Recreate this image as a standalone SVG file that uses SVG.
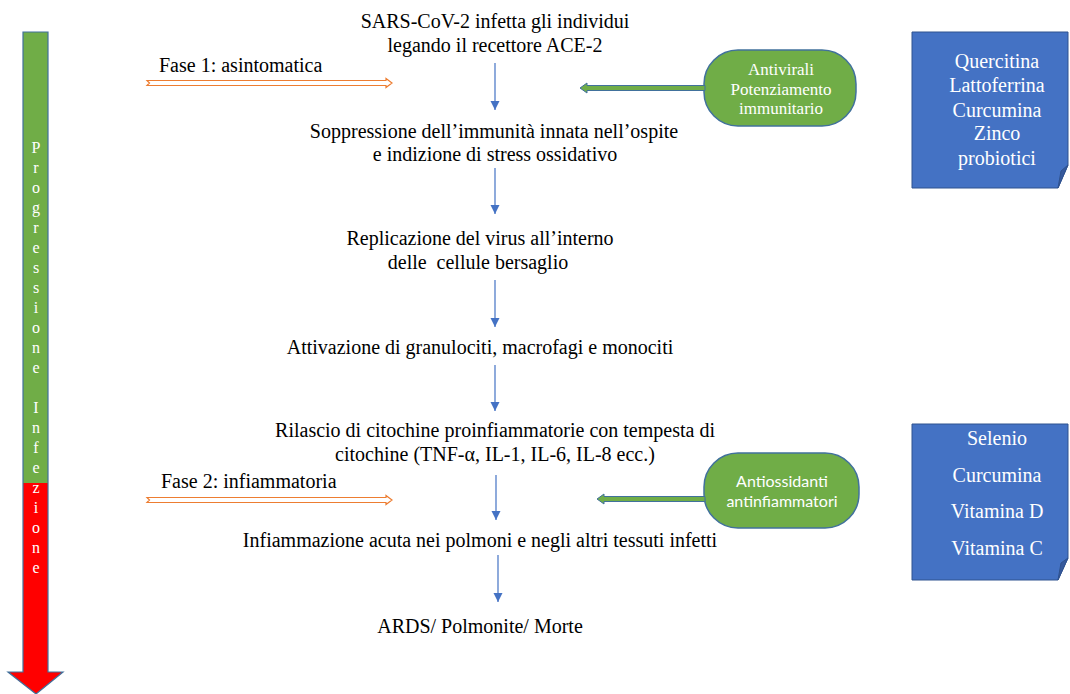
<svg xmlns="http://www.w3.org/2000/svg" width="1070" height="694" viewBox="0 0 1070 694">
<style>
.t{font-family:"Liberation Serif","Times New Roman",serif;font-size:20px;fill:#000;text-anchor:middle}
.tl{font-family:"Liberation Serif","Times New Roman",serif;font-size:20px;fill:#000}
.w{font-family:"Liberation Serif","Times New Roman",serif;font-size:17px;fill:#fff;text-anchor:middle}
.wb{font-family:"Liberation Serif","Times New Roman",serif;font-size:20px;fill:#fff;text-anchor:middle}
.ws{font-family:Lato,"Open Sans",sans-serif;font-size:16px;fill:#fff;text-anchor:middle}
.pl{font-family:"Liberation Serif","Times New Roman",serif;font-size:16px;fill:#fff;text-anchor:middle}
.blue{stroke:#4472C4;stroke-width:1.2;fill:none}
.orange{stroke:#ED7D31;stroke-width:1.2;fill:#fff}
.garrow{fill:#70AD47;stroke:#41719C;stroke-width:1}
.oval{fill:#70AD47;stroke:#41719C;stroke-width:1.5}
.box{fill:#4472C4;stroke:#2F528F;stroke-width:1}
.fold{fill:#36599C;stroke:#2F528F;stroke-width:1}
</style>
<defs>
<marker id="ah" markerWidth="10" markerHeight="10" refX="9" refY="5" orient="auto" markerUnits="userSpaceOnUse">
<path d="M0,0.5 L9,5 L0,9.5 Z" fill="#4472C4"/>
</marker>
<linearGradient id="prog" x1="0" y1="32" x2="0" y2="694" gradientUnits="userSpaceOnUse">
<stop offset="0.6813" stop-color="#70AD47"/>
<stop offset="0.6813" stop-color="#FF0000"/>
</linearGradient>
</defs>

<g id="progression">
<path d="M23,32 H48 V672 H63 L36,694 L8,672 H23 Z" fill="url(#prog)" stroke="#41719C" stroke-width="1.2"/>
<text class="pl" x="36" y="153">P</text>
<text class="pl" x="36" y="173">r</text>
<text class="pl" x="36" y="193">o</text>
<text class="pl" x="36" y="213">g</text>
<text class="pl" x="36" y="233">r</text>
<text class="pl" x="36" y="253">e</text>
<text class="pl" x="36" y="273">s</text>
<text class="pl" x="36" y="293">s</text>
<text class="pl" x="36" y="313">i</text>
<text class="pl" x="36" y="333">o</text>
<text class="pl" x="36" y="353">n</text>
<text class="pl" x="36" y="373">e</text>
<text class="pl" x="36" y="413">I</text>
<text class="pl" x="36" y="433">n</text>
<text class="pl" x="36" y="453">f</text>
<text class="pl" x="36" y="473">e</text>
<text class="pl" x="36" y="493">z</text>
<text class="pl" x="36" y="513">i</text>
<text class="pl" x="36" y="533">o</text>
<text class="pl" x="36" y="553">n</text>
<text class="pl" x="36" y="573">e</text>
</g>

<g id="n1"><text class="t" x="495" y="28">SARS-CoV-2 infetta gli individui</text><text class="t" x="495" y="52">legando il recettore ACE-2</text></g>
<g id="n2"><text class="t" x="494" y="138">Soppressione dell’immunità innata nell’ospite</text><text class="t" x="495" y="161">e indizione di stress ossidativo</text></g>
<g id="n3"><text class="t" x="480" y="245">Replicazione del virus all’interno</text><text class="t" x="478" y="269" xml:space="preserve">delle  cellule bersaglio</text></g>
<g id="n4"><text class="t" x="480" y="354">Attivazione di granulociti, macrofagi e monociti</text></g>
<g id="n5"><text class="t" x="495" y="437">Rilascio di citochine proinfiammatorie con tempesta di</text><text class="t" x="495" y="461">citochine (TNF-α, IL-1, IL-6, IL-8 ecc.)</text></g>
<g id="n6"><text class="t" x="480" y="547">Infiammazione acuta nei polmoni e negli altri tessuti infetti</text></g>
<g id="n7"><text class="t" x="480" y="633">ARDS/ Polmonite/ Morte</text></g>

<g id="fase1"><text class="tl" x="159" y="72">Fase 1: asintomatica</text>
<path class="orange" d="M147,80.5 H386 V78.5 L392,83 L386,87.5 V85.5 H147 L149.5,83 Z"/></g>
<g id="fase2"><text class="tl" x="161" y="488">Fase 2: infiammatoria</text>
<path class="orange" d="M147,497.5 H386 V495.5 L392,500 L386,504.5 V502.5 H147 L149.5,500 Z"/></g>

<g id="oval1"><rect class="oval" x="704" y="50" width="152" height="76" rx="34" ry="34"/>
<text class="w" x="781" y="75">Antivirali</text><text class="w" x="781" y="95">Potenziamento</text><text class="w" x="781" y="114">immunitario</text></g>
<g id="oval2"><rect class="oval" x="704" y="453" width="155" height="75" rx="34" ry="34"/>
<text class="ws" x="782" y="487">Antiossidanti</text><text class="ws" x="782" y="507">antinfiammatori</text></g>

<g id="box1"><path class="box" d="M912,32 H1068 V165 L1058,188 H912 Z"/><path class="fold" d="M1058,188 L1061,171 L1068,165 Z"/>
<text class="wb" x="997" y="68">Quercitina</text><text class="wb" x="997" y="92">Lattoferrina</text><text class="wb" x="997" y="117">Curcumina</text><text class="wb" x="997" y="140">Zinco</text><text class="wb" x="997" y="165">probiotici</text></g>
<g id="box2"><path class="box" d="M912,424 H1068 V558 L1058,580 H912 Z"/><path class="fold" d="M1058,580 L1061,563 L1068,558 Z"/>
<text class="wb" x="997" y="445">Selenio</text><text class="wb" x="997" y="482">Curcumina</text><text class="wb" x="997" y="518">Vitamina D</text><text class="wb" x="997" y="555">Vitamina C</text></g>

<g id="connectors">
<line class="blue" x1="495" y1="63" x2="495" y2="110" marker-end="url(#ah)"/>
<line class="blue" x1="495" y1="168" x2="495" y2="214" marker-end="url(#ah)"/>
<line class="blue" x1="495" y1="280" x2="495" y2="327" marker-end="url(#ah)"/>
<line class="blue" x1="495" y1="365" x2="495" y2="411" marker-end="url(#ah)"/>
<line class="blue" x1="496" y1="475" x2="496" y2="520" marker-end="url(#ah)"/>
<line class="blue" x1="498" y1="555" x2="498" y2="602" marker-end="url(#ah)"/>
<path class="garrow" d="M705,85.5 H587 V83 L580,88 L587,93 V90.5 H705 Z"/>
<path class="garrow" d="M705,496.5 H604 V494 L597,499 L604,504 V501.5 H705 Z"/>
</g>
</svg>
